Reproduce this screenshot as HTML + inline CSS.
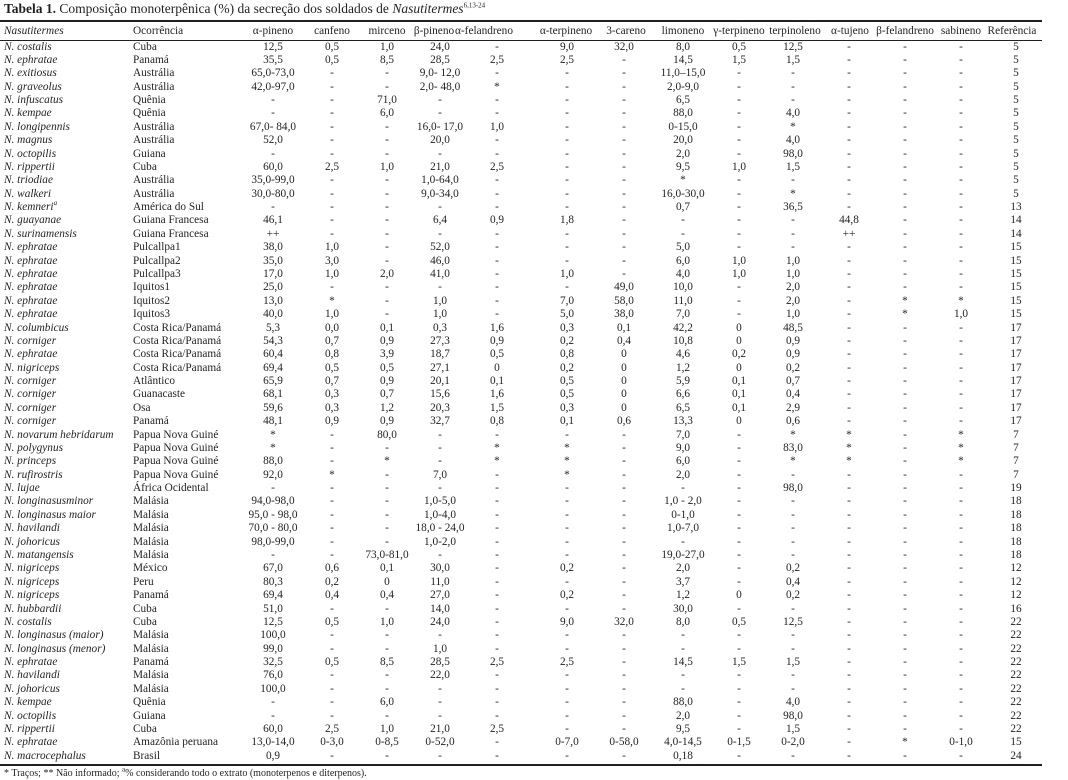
<!DOCTYPE html>
<html><head><meta charset="utf-8">
<style>
html,body{margin:0;padding:0;background:#fff;}
body{width:1068px;height:780px;position:relative;overflow:hidden;font-family:"Liberation Serif",serif;font-size:11.3px;color:#231f20;}
.t{position:absolute;left:4px;top:1px;font-size:13.5px;white-space:nowrap;}
.rule{position:absolute;left:0;width:1042px;background:#231f20;}
.r{position:absolute;left:0;width:1068px;height:13px;line-height:13px;}
.r span{position:absolute;top:0;white-space:nowrap;width:80px;text-align:center;}
.r span:nth-child(1){left:4px;width:auto;text-align:left;font-style:italic;}
.r span:nth-child(2){left:133px;width:auto;text-align:left;}
.r span:nth-child(3){left:233px}
.r span:nth-child(4){left:292px}
.r span:nth-child(5){left:347px}
.r span:nth-child(6){left:400px}
.r span:nth-child(7){left:457px}
.r span:nth-child(8){left:527px}
.r span:nth-child(9){left:584px}
.r span:nth-child(10){left:643px}
.r span:nth-child(11){left:699px}
.r span:nth-child(12){left:753px}
.r span:nth-child(13){left:809px}
.r span:nth-child(14){left:865px}
.r span:nth-child(15){left:921px}
.r span:nth-child(16){left:976px}
.h span:nth-child(6){left:394px}
.h span:nth-child(7){left:444px}
.h span:nth-child(8){left:526px}
.h span:nth-child(9){left:586px}
.h span:nth-child(12){left:755px}
.h span:nth-child(13){left:810px}
.h span:nth-child(16){left:972px}
.fn{position:absolute;left:4px;top:768px;font-size:10px;white-space:nowrap;}
sup{font-size:7px;line-height:0;}
</style></head><body>
<div class="t"><b>Tabela 1.</b> Composição monoterpênica (%) da secreção dos soldados de <i>Nasutitermes</i><sup>6,13-24</sup></div>
<div class="rule" style="top:20px;height:1.5px"></div>
<div class="r h" style="top:25px"><span>Nasutitermes</span><span>Ocorrência</span><span>α-pineno</span><span>canfeno</span><span>mirceno</span><span>β-pineno</span><span>α-felandreno</span><span>α-terpineno</span><span>3-careno</span><span>limoneno</span><span>γ-terpineno</span><span>terpinoleno</span><span>α-tujeno</span><span>β-felandreno</span><span>sabineno</span><span>Referência</span></div>
<div class="rule" style="top:40px;height:1px"></div>

<div class="r" style="top:40.5px"><span>N. costalis</span><span>Cuba</span><span>12,5</span><span>0,5</span><span>1,0</span><span>24,0</span><span>-</span><span>9,0</span><span>32,0</span><span>8,0</span><span>0,5</span><span>12,5</span><span>-</span><span>-</span><span>-</span><span>5</span></div>
<div class="r" style="top:53.9px"><span>N. ephratae</span><span>Panamá</span><span>35,5</span><span>0,5</span><span>8,5</span><span>28,5</span><span>2,5</span><span>2,5</span><span>-</span><span>14,5</span><span>1,5</span><span>1,5</span><span>-</span><span>-</span><span>-</span><span>5</span></div>
<div class="r" style="top:67.3px"><span>N. exitiosus</span><span>Austrália</span><span>65,0-73,0</span><span>-</span><span>-</span><span>9,0- 12,0</span><span>-</span><span>-</span><span>-</span><span>11,0–15,0</span><span>-</span><span>-</span><span>-</span><span>-</span><span>-</span><span>5</span></div>
<div class="r" style="top:80.6px"><span>N. graveolus</span><span>Austrália</span><span>42,0-97,0</span><span>-</span><span>-</span><span>2,0- 48,0</span><span>*</span><span>-</span><span>-</span><span>2,0-9,0</span><span>-</span><span>-</span><span>-</span><span>-</span><span>-</span><span>5</span></div>
<div class="r" style="top:94.0px"><span>N. infuscatus</span><span>Quênia</span><span>-</span><span>-</span><span>71,0</span><span>-</span><span>-</span><span>-</span><span>-</span><span>6,5</span><span>-</span><span>-</span><span>-</span><span>-</span><span>-</span><span>5</span></div>
<div class="r" style="top:107.4px"><span>N. kempae</span><span>Quênia</span><span>-</span><span>-</span><span>6,0</span><span>-</span><span>-</span><span>-</span><span>-</span><span>88,0</span><span>-</span><span>4,0</span><span>-</span><span>-</span><span>-</span><span>5</span></div>
<div class="r" style="top:120.8px"><span>N. longipennis</span><span>Austrália</span><span>67,0- 84,0</span><span>-</span><span>-</span><span>16,0- 17,0</span><span>1,0</span><span>-</span><span>-</span><span>0-15,0</span><span>-</span><span>*</span><span>-</span><span>-</span><span>-</span><span>5</span></div>
<div class="r" style="top:134.2px"><span>N. magnus</span><span>Austrália</span><span>52,0</span><span>-</span><span>-</span><span>20,0</span><span>-</span><span>-</span><span>-</span><span>20,0</span><span>-</span><span>4,0</span><span>-</span><span>-</span><span>-</span><span>5</span></div>
<div class="r" style="top:147.5px"><span>N. octopilis</span><span>Guiana</span><span>-</span><span>-</span><span>-</span><span>-</span><span>-</span><span>-</span><span>-</span><span>2,0</span><span>-</span><span>98,0</span><span>-</span><span>-</span><span>-</span><span>5</span></div>
<div class="r" style="top:160.9px"><span>N. rippertii</span><span>Cuba</span><span>60,0</span><span>2,5</span><span>1,0</span><span>21,0</span><span>2,5</span><span>-</span><span>-</span><span>9,5</span><span>1,0</span><span>1,5</span><span>-</span><span>-</span><span>-</span><span>5</span></div>
<div class="r" style="top:174.3px"><span>N. triodiae</span><span>Austrália</span><span>35,0-99,0</span><span>-</span><span>-</span><span>1,0-64,0</span><span>-</span><span>-</span><span>-</span><span>*</span><span>-</span><span>-</span><span>-</span><span>-</span><span>-</span><span>5</span></div>
<div class="r" style="top:187.7px"><span>N. walkeri</span><span>Austrália</span><span>30,0-80,0</span><span>-</span><span>-</span><span>9,0-34,0</span><span>-</span><span>-</span><span>-</span><span>16,0-30,0</span><span>-</span><span>*</span><span>-</span><span>-</span><span>-</span><span>5</span></div>
<div class="r" style="top:201.1px"><span>N. kemneri<sup>a</sup></span><span>América do Sul</span><span>-</span><span>-</span><span>-</span><span>-</span><span>-</span><span>-</span><span>-</span><span>0,7</span><span>-</span><span>36,5</span><span>-</span><span>-</span><span>-</span><span>13</span></div>
<div class="r" style="top:214.4px"><span>N. guayanae</span><span>Guiana Francesa</span><span>46,1</span><span>-</span><span>-</span><span>6,4</span><span>0,9</span><span>1,8</span><span>-</span><span>-</span><span>-</span><span>-</span><span>44,8</span><span>-</span><span>-</span><span>14</span></div>
<div class="r" style="top:227.8px"><span>N. surinamensis</span><span>Guiana Francesa</span><span>++</span><span>-</span><span>-</span><span>-</span><span>-</span><span>-</span><span>-</span><span>-</span><span>-</span><span>-</span><span>++</span><span>-</span><span>-</span><span>14</span></div>
<div class="r" style="top:241.2px"><span>N. ephratae</span><span>Pulcallpa1</span><span>38,0</span><span>1,0</span><span>-</span><span>52,0</span><span>-</span><span>-</span><span>-</span><span>5,0</span><span>-</span><span>-</span><span>-</span><span>-</span><span>-</span><span>15</span></div>
<div class="r" style="top:254.6px"><span>N. ephratae</span><span>Pulcallpa2</span><span>35,0</span><span>3,0</span><span>-</span><span>46,0</span><span>-</span><span>-</span><span>-</span><span>6,0</span><span>1,0</span><span>1,0</span><span>-</span><span>-</span><span>-</span><span>15</span></div>
<div class="r" style="top:268.0px"><span>N. ephratae</span><span>Pulcallpa3</span><span>17,0</span><span>1,0</span><span>2,0</span><span>41,0</span><span>-</span><span>1,0</span><span>-</span><span>4,0</span><span>1,0</span><span>1,0</span><span>-</span><span>-</span><span>-</span><span>15</span></div>
<div class="r" style="top:281.3px"><span>N. ephratae</span><span>Iquitos1</span><span>25,0</span><span>-</span><span>-</span><span>-</span><span>-</span><span>-</span><span>49,0</span><span>10,0</span><span>-</span><span>2,0</span><span>-</span><span>-</span><span>-</span><span>15</span></div>
<div class="r" style="top:294.7px"><span>N. ephratae</span><span>Iquitos2</span><span>13,0</span><span>*</span><span>-</span><span>1,0</span><span>-</span><span>7,0</span><span>58,0</span><span>11,0</span><span>-</span><span>2,0</span><span>-</span><span>*</span><span>*</span><span>15</span></div>
<div class="r" style="top:308.1px"><span>N. ephratae</span><span>Iquitos3</span><span>40,0</span><span>1,0</span><span>-</span><span>1,0</span><span>-</span><span>5,0</span><span>38,0</span><span>7,0</span><span>-</span><span>1,0</span><span>-</span><span>*</span><span>1,0</span><span>15</span></div>
<div class="r" style="top:321.5px"><span>N. columbicus</span><span>Costa Rica/Panamá</span><span>5,3</span><span>0,0</span><span>0,1</span><span>0,3</span><span>1,6</span><span>0,3</span><span>0,1</span><span>42,2</span><span>0</span><span>48,5</span><span>-</span><span>-</span><span>-</span><span>17</span></div>
<div class="r" style="top:334.9px"><span>N. corniger</span><span>Costa Rica/Panamá</span><span>54,3</span><span>0,7</span><span>0,9</span><span>27,3</span><span>0,9</span><span>0,2</span><span>0,4</span><span>10,8</span><span>0</span><span>0,9</span><span>-</span><span>-</span><span>-</span><span>17</span></div>
<div class="r" style="top:348.2px"><span>N. ephratae</span><span>Costa Rica/Panamá</span><span>60,4</span><span>0,8</span><span>3,9</span><span>18,7</span><span>0,5</span><span>0,8</span><span>0</span><span>4,6</span><span>0,2</span><span>0,9</span><span>-</span><span>-</span><span>-</span><span>17</span></div>
<div class="r" style="top:361.6px"><span>N. nigriceps</span><span>Costa Rica/Panamá</span><span>69,4</span><span>0,5</span><span>0,5</span><span>27,1</span><span>0</span><span>0,2</span><span>0</span><span>1,2</span><span>0</span><span>0,2</span><span>-</span><span>-</span><span>-</span><span>17</span></div>
<div class="r" style="top:375.0px"><span>N. corniger</span><span>Atlântico</span><span>65,9</span><span>0,7</span><span>0,9</span><span>20,1</span><span>0,1</span><span>0,5</span><span>0</span><span>5,9</span><span>0,1</span><span>0,7</span><span>-</span><span>-</span><span>-</span><span>17</span></div>
<div class="r" style="top:388.4px"><span>N. corniger</span><span>Guanacaste</span><span>68,1</span><span>0,3</span><span>0,7</span><span>15,6</span><span>1,6</span><span>0,5</span><span>0</span><span>6,6</span><span>0,1</span><span>0,4</span><span>-</span><span>-</span><span>-</span><span>17</span></div>
<div class="r" style="top:401.8px"><span>N. corniger</span><span>Osa</span><span>59,6</span><span>0,3</span><span>1,2</span><span>20,3</span><span>1,5</span><span>0,3</span><span>0</span><span>6,5</span><span>0,1</span><span>2,9</span><span>-</span><span>-</span><span>-</span><span>17</span></div>
<div class="r" style="top:415.1px"><span>N. corniger</span><span>Panamá</span><span>48,1</span><span>0,9</span><span>0,9</span><span>32,7</span><span>0,8</span><span>0,1</span><span>0,6</span><span>13,3</span><span>0</span><span>0,6</span><span>-</span><span>-</span><span>-</span><span>17</span></div>
<div class="r" style="top:428.5px"><span>N. novarum hebridarum</span><span>Papua Nova Guiné</span><span>*</span><span>-</span><span>80,0</span><span>-</span><span>-</span><span>-</span><span>-</span><span>7,0</span><span>-</span><span>*</span><span>*</span><span>-</span><span>*</span><span>7</span></div>
<div class="r" style="top:441.9px"><span>N. polygynus</span><span>Papua Nova Guiné</span><span>*</span><span>-</span><span>-</span><span>-</span><span>*</span><span>*</span><span>-</span><span>9,0</span><span>-</span><span>83,0</span><span>*</span><span>-</span><span>*</span><span>7</span></div>
<div class="r" style="top:455.3px"><span>N. princeps</span><span>Papua Nova Guiné</span><span>88,0</span><span>-</span><span>*</span><span>-</span><span>*</span><span>*</span><span>-</span><span>6,0</span><span>-</span><span>*</span><span>*</span><span>-</span><span>*</span><span>7</span></div>
<div class="r" style="top:468.7px"><span>N. rufirostris</span><span>Papua Nova Guiné</span><span>92,0</span><span>*</span><span>-</span><span>7,0</span><span>-</span><span>*</span><span>-</span><span>2,0</span><span>-</span><span>-</span><span>-</span><span>-</span><span>-</span><span>7</span></div>
<div class="r" style="top:482.0px"><span>N. lujae</span><span>África Ocidental</span><span>-</span><span>-</span><span>-</span><span>-</span><span>-</span><span>-</span><span>-</span><span>-</span><span>-</span><span>98,0</span><span>-</span><span>-</span><span>-</span><span>19</span></div>
<div class="r" style="top:495.4px"><span>N. longinasusminor</span><span>Malásia</span><span>94,0-98,0</span><span>-</span><span>-</span><span>1,0-5,0</span><span>-</span><span>-</span><span>-</span><span>1,0 - 2,0</span><span>-</span><span>-</span><span>-</span><span>-</span><span>-</span><span>18</span></div>
<div class="r" style="top:508.8px"><span>N. longinasus maior</span><span>Malásia</span><span>95,0 - 98,0</span><span>-</span><span>-</span><span>1,0-4,0</span><span>-</span><span>-</span><span>-</span><span>0-1,0</span><span>-</span><span>-</span><span>-</span><span>-</span><span>-</span><span>18</span></div>
<div class="r" style="top:522.2px"><span>N. havilandi</span><span>Malásia</span><span>70,0 - 80,0</span><span>-</span><span>-</span><span>18,0 - 24,0</span><span>-</span><span>-</span><span>-</span><span>1,0-7,0</span><span>-</span><span>-</span><span>-</span><span>-</span><span>-</span><span>18</span></div>
<div class="r" style="top:535.6px"><span>N. johoricus</span><span>Malásia</span><span>98,0-99,0</span><span>-</span><span>-</span><span>1,0-2,0</span><span>-</span><span>-</span><span>-</span><span>-</span><span>-</span><span>-</span><span>-</span><span>-</span><span>-</span><span>18</span></div>
<div class="r" style="top:548.9px"><span>N. matangensis</span><span>Malásia</span><span>-</span><span>-</span><span>73,0-81,0</span><span>-</span><span>-</span><span>-</span><span>-</span><span>19,0-27,0</span><span>-</span><span>-</span><span>-</span><span>-</span><span>-</span><span>18</span></div>
<div class="r" style="top:562.3px"><span>N. nigriceps</span><span>México</span><span>67,0</span><span>0,6</span><span>0,1</span><span>30,0</span><span>-</span><span>0,2</span><span>-</span><span>2,0</span><span>-</span><span>0,2</span><span>-</span><span>-</span><span>-</span><span>12</span></div>
<div class="r" style="top:575.7px"><span>N. nigriceps</span><span>Peru</span><span>80,3</span><span>0,2</span><span>0</span><span>11,0</span><span>-</span><span>-</span><span>-</span><span>3,7</span><span>-</span><span>0,4</span><span>-</span><span>-</span><span>-</span><span>12</span></div>
<div class="r" style="top:589.1px"><span>N. nigriceps</span><span>Panamá</span><span>69,4</span><span>0,4</span><span>0,4</span><span>27,0</span><span>-</span><span>0,2</span><span>-</span><span>1,2</span><span>0</span><span>0,2</span><span>-</span><span>-</span><span>-</span><span>12</span></div>
<div class="r" style="top:602.5px"><span>N. hubbardii</span><span>Cuba</span><span>51,0</span><span>-</span><span>-</span><span>14,0</span><span>-</span><span>-</span><span>-</span><span>30,0</span><span>-</span><span>-</span><span>-</span><span>-</span><span>-</span><span>16</span></div>
<div class="r" style="top:615.8px"><span>N. costalis</span><span>Cuba</span><span>12,5</span><span>0,5</span><span>1,0</span><span>24,0</span><span>-</span><span>9,0</span><span>32,0</span><span>8,0</span><span>0,5</span><span>12,5</span><span>-</span><span>-</span><span>-</span><span>22</span></div>
<div class="r" style="top:629.2px"><span>N. longinasus (maior)</span><span>Malásia</span><span>100,0</span><span>-</span><span>-</span><span>-</span><span>-</span><span>-</span><span>-</span><span>-</span><span>-</span><span>-</span><span>-</span><span>-</span><span>-</span><span>22</span></div>
<div class="r" style="top:642.6px"><span>N. longinasus (menor)</span><span>Malásia</span><span>99,0</span><span>-</span><span>-</span><span>1,0</span><span>-</span><span>-</span><span>-</span><span>-</span><span>-</span><span>-</span><span>-</span><span>-</span><span>-</span><span>22</span></div>
<div class="r" style="top:656.0px"><span>N. ephratae</span><span>Panamá</span><span>32,5</span><span>0,5</span><span>8,5</span><span>28,5</span><span>2,5</span><span>2,5</span><span>-</span><span>14,5</span><span>1,5</span><span>1,5</span><span>-</span><span>-</span><span>-</span><span>22</span></div>
<div class="r" style="top:669.4px"><span>N. havilandi</span><span>Malásia</span><span>76,0</span><span>-</span><span>-</span><span>22,0</span><span>-</span><span>-</span><span>-</span><span>-</span><span>-</span><span>-</span><span>-</span><span>-</span><span>-</span><span>22</span></div>
<div class="r" style="top:682.7px"><span>N. johoricus</span><span>Malásia</span><span>100,0</span><span>-</span><span>-</span><span>-</span><span>-</span><span>-</span><span>-</span><span>-</span><span>-</span><span>-</span><span>-</span><span>-</span><span>-</span><span>22</span></div>
<div class="r" style="top:696.1px"><span>N. kempae</span><span>Quênia</span><span>-</span><span>-</span><span>6,0</span><span>-</span><span>-</span><span>-</span><span>-</span><span>88,0</span><span>-</span><span>4,0</span><span>-</span><span>-</span><span>-</span><span>22</span></div>
<div class="r" style="top:709.5px"><span>N. octopilis</span><span>Guiana</span><span>-</span><span>-</span><span>-</span><span>-</span><span>-</span><span>-</span><span>-</span><span>2,0</span><span>-</span><span>98,0</span><span>-</span><span>-</span><span>-</span><span>22</span></div>
<div class="r" style="top:722.9px"><span>N. rippertii</span><span>Cuba</span><span>60,0</span><span>2,5</span><span>1,0</span><span>21,0</span><span>2,5</span><span>-</span><span>-</span><span>9,5</span><span>-</span><span>1,5</span><span>-</span><span>-</span><span>-</span><span>22</span></div>
<div class="r" style="top:736.3px"><span>N. ephratae</span><span>Amazônia peruana</span><span>13,0-14,0</span><span>0-3,0</span><span>0-8,5</span><span>0-52,0</span><span>-</span><span>0-7,0</span><span>0-58,0</span><span>4,0-14,5</span><span>0-1,5</span><span>0-2,0</span><span>-</span><span>*</span><span>0-1,0</span><span>15</span></div>
<div class="r" style="top:749.6px"><span>N. macrocephalus</span><span>Brasil</span><span>0,9</span><span>-</span><span>-</span><span>-</span><span>-</span><span>-</span><span>-</span><span>0,18</span><span>-</span><span>-</span><span>-</span><span>-</span><span>-</span><span>24</span></div>

<div class="rule" style="top:764px;height:1.5px"></div>
<div class="fn">* Traços; ** Não informado; <sup>a</sup>% considerando todo o extrato (monoterpenos e diterpenos).</div>
</body></html>
